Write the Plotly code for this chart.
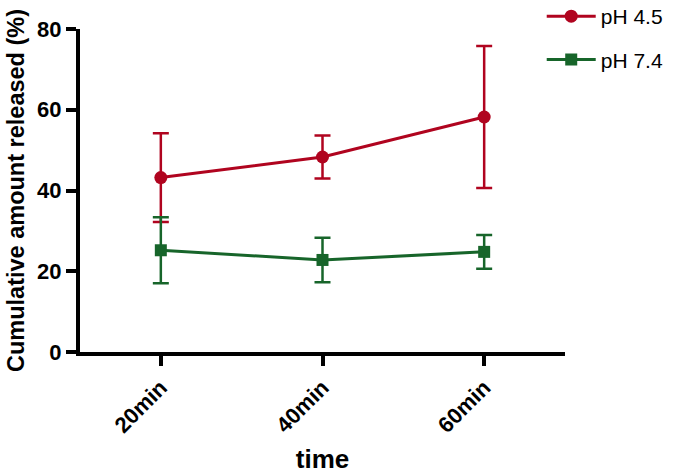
import plotly.graph_objects as go

categories = ["20min", "40min", "60min"]
ph45_mean = [43.2, 48.3, 58.2]
ph45_err = [11.0, 5.3, 17.6]
ph74_mean = [25.2, 22.8, 24.8]
ph74_err = [8.2, 5.5, 4.2]

red = "#B0041F"
green = "#17652A"

fig = go.Figure()
fig.add_trace(go.Scatter(
    x=categories, y=ph45_mean, name="pH 4.5", mode="lines+markers", legendgroup="a",
    line=dict(color=red, width=3), marker=dict(symbol="circle", size=13, color=red),
    error_y=dict(type="data", array=ph45_err, visible=True, color=red, thickness=2.5, width=8),
))
fig.add_trace(go.Scatter(
    x=categories, y=ph74_mean, name="pH 7.4", mode="lines+markers", legendgroup="b",
    line=dict(color=green, width=3), marker=dict(symbol="square", size=12, color=green),
    error_y=dict(type="data", array=ph74_err, visible=True, color=green, thickness=2.5, width=8),
))

fig.update_layout(
    width=683, height=475,
    margin=dict(l=80, r=118, t=29, b=123, autoexpand=False),
    paper_bgcolor="white", plot_bgcolor="white",
    font=dict(family="Liberation Sans, Arial, sans-serif", color="black"),
    showlegend=True,
    legend=dict(x=0.952, y=1.102, xanchor="left", yanchor="top",
                font=dict(size=21, color="black"), itemwidth=49,
                traceorder="grouped", tracegroupgap=13, bgcolor="rgba(0,0,0,0)"),
    xaxis=dict(
        type="category", range=[-0.5, 2.5],
        showline=True, linecolor="black", linewidth=4,
        ticks="outside", ticklen=10, tickwidth=4, tickcolor="black",
        tickangle=-45, tickfont=dict(size=22, family="Liberation Sans, Arial", color="black", weight="bold"),
        showgrid=False, zeroline=False,
        title=dict(text="<b>time</b>", font=dict(size=26, color="black"), standoff=14),
    ),
    yaxis=dict(
        range=[0, 80], tickvals=[0, 20, 40, 60, 80],
        showline=True, linecolor="black", linewidth=4,
        ticks="outside", ticklen=10, tickwidth=4, tickcolor="black",
        tickfont=dict(size=22, family="Liberation Sans, Arial", color="black", weight="bold"),
        showgrid=False, zeroline=False,
        title=dict(text="<b>Cumulative amount released (%)</b>", font=dict(size=23.5, color="black"), standoff=7),
    ),
)

fig.write_html("out.html", config={"displayModeBar": False},
               post_script="document.body.style.margin='0';document.body.style.overflow='hidden';")
